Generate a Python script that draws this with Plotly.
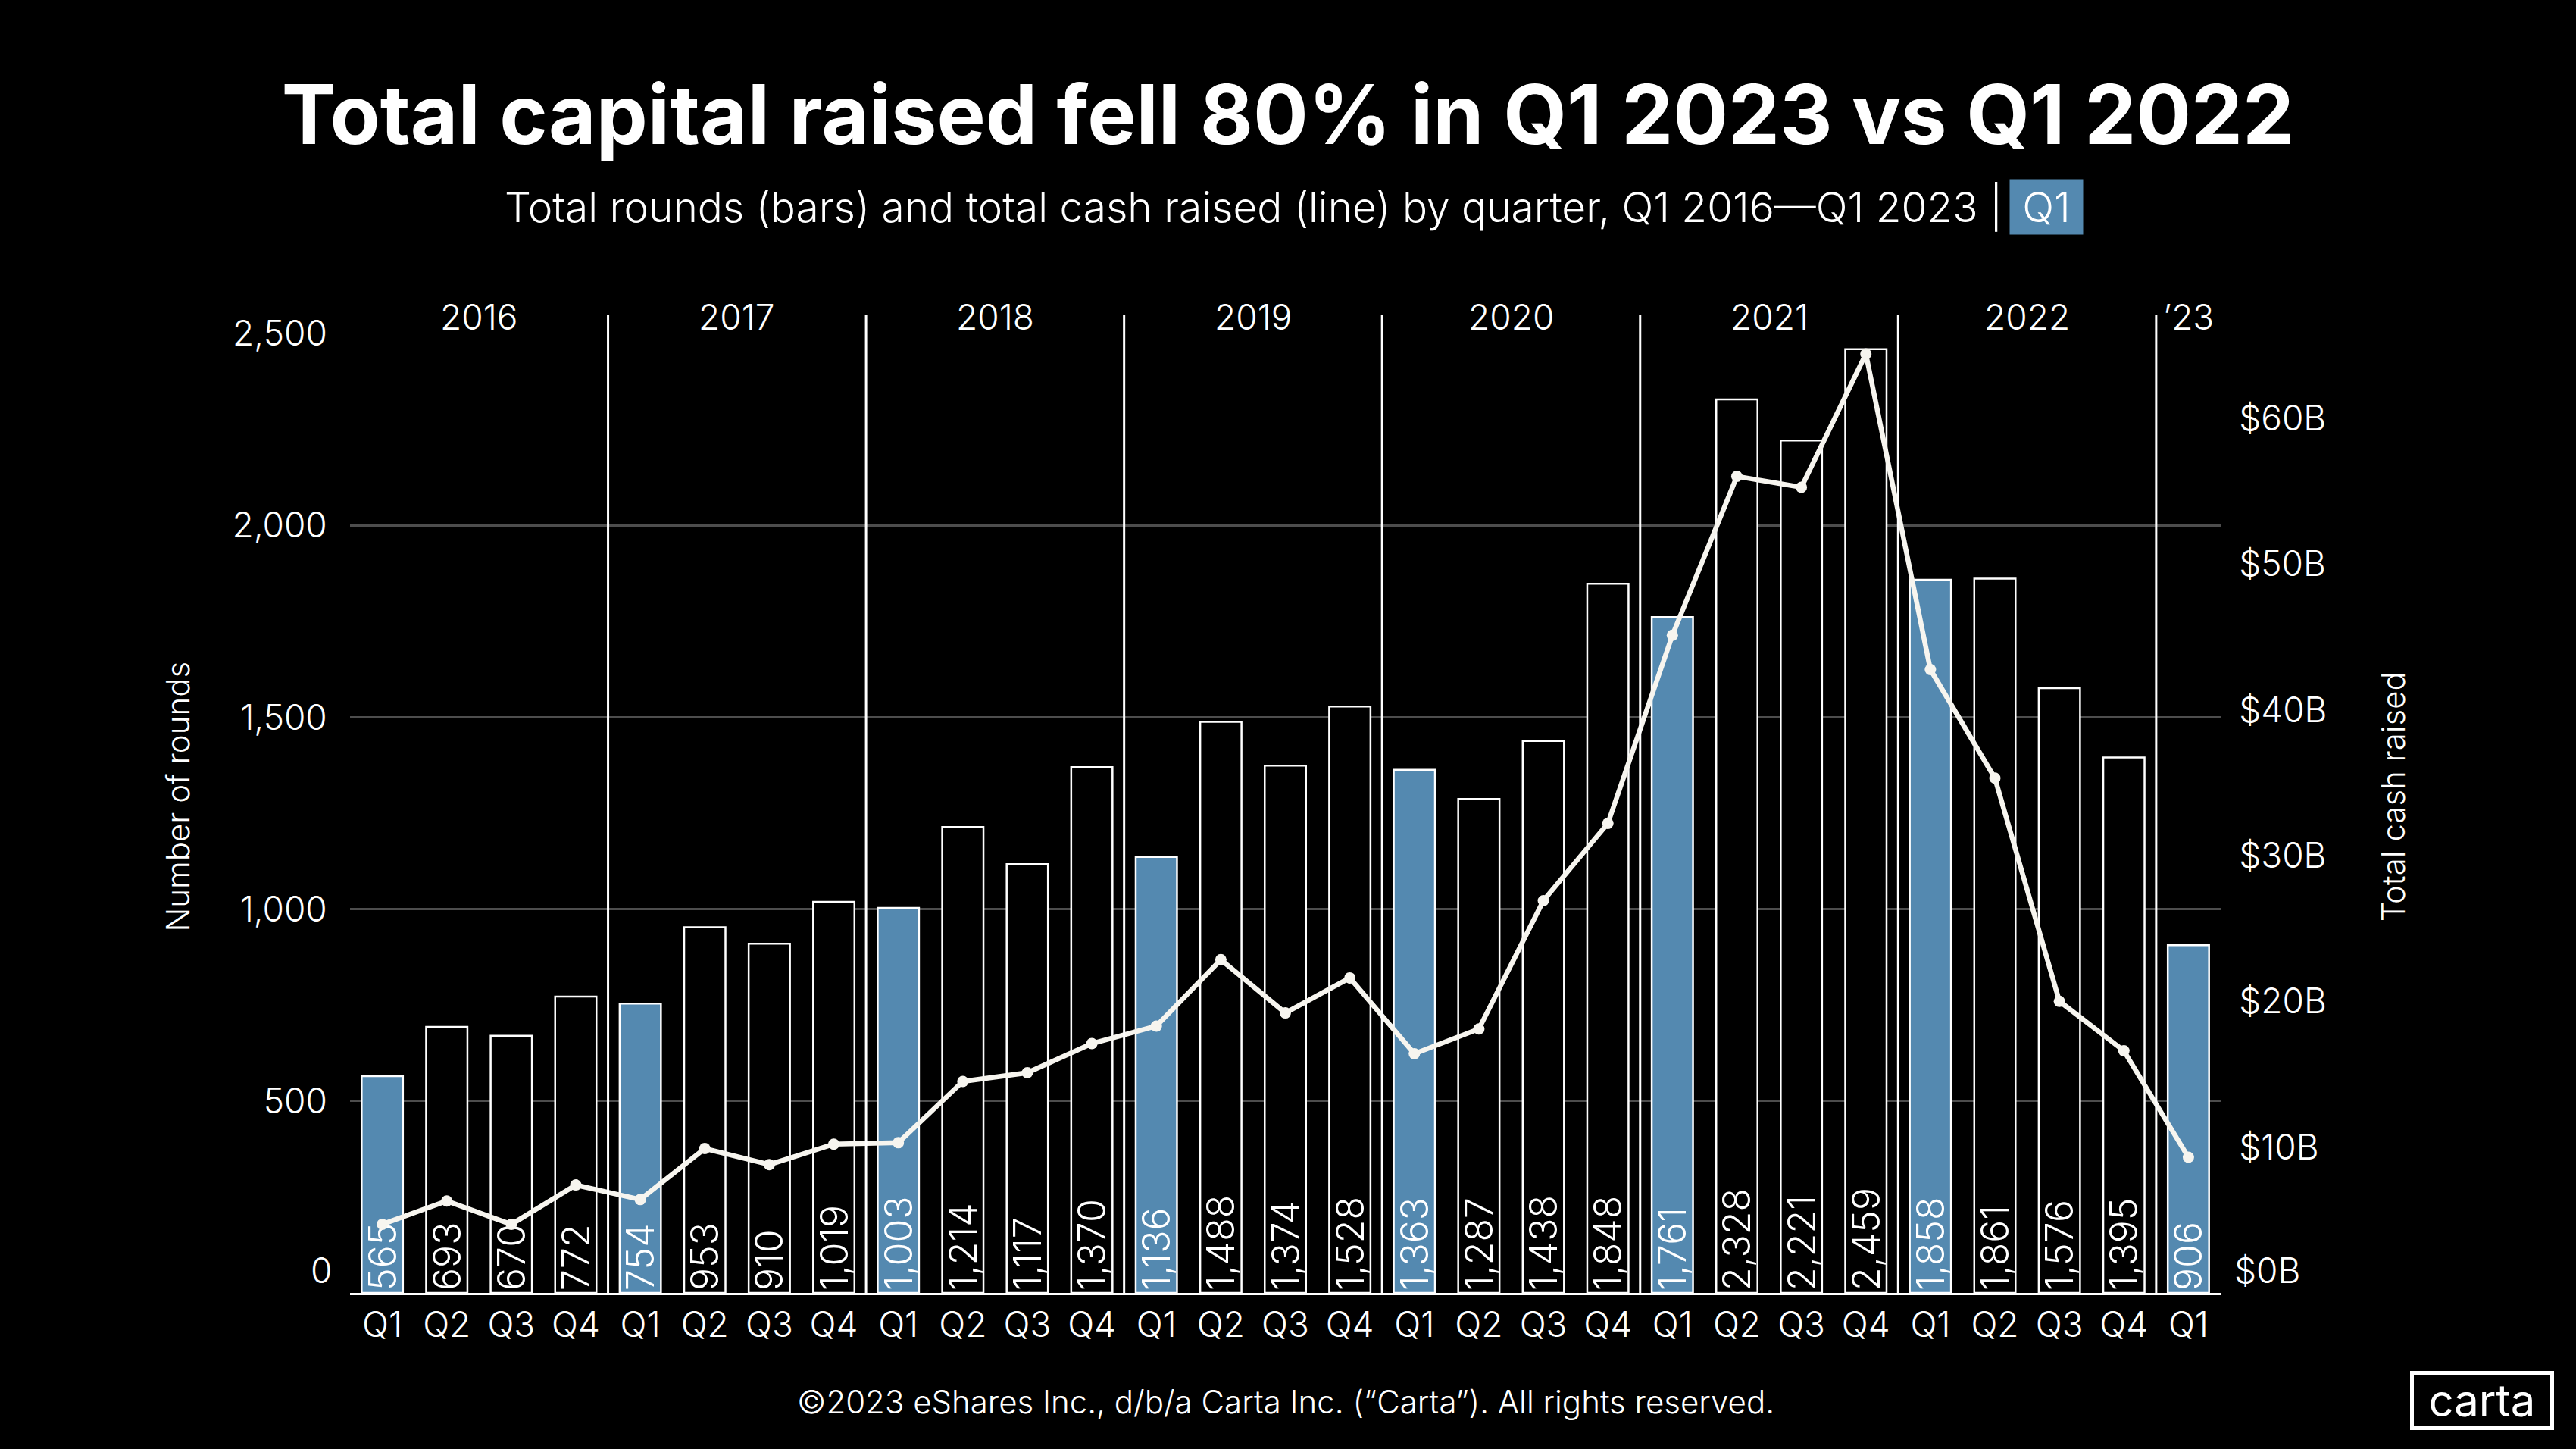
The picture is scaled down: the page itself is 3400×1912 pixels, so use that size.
import plotly.graph_objects as go

# quarters Q1 2016 .. Q1 2023
quarters = ["Q1", "Q2", "Q3", "Q4"] * 7 + ["Q1"]
years = ["2016", "2017", "2018", "2019", "2020", "2021", "2022", "\u201923"]

rounds = [565, 693, 670, 772,
          754, 953, 910, 1019,
          1003, 1214, 1117, 1370,
          1136, 1488, 1374, 1528,
          1363, 1287, 1438, 1848,
          1761, 2328, 2221, 2459,
          1858, 1861, 1576, 1395,
          906]

# total cash raised, $B
cash = [4.7, 6.3, 4.7, 7.4,
        6.4, 9.9, 8.8, 10.2,
        10.3, 14.5, 15.1, 17.1,
        18.3, 22.85, 19.2, 21.6,
        16.4, 18.1, 26.9, 32.2,
        45.1, 56.0, 55.25, 64.4,
        42.75, 35.3, 20.0, 16.6,
        9.3]

left_ticks = [500, 1000, 1500, 2000, 2500]
right_ticks = [10, 20, 30, 40, 50, 60]

BLUE = "#5489B0"
GRID = "#4d4d4d"
FONT = "Inter"


def light(size):
    return dict(family=FONT, size=size, color="white", weight=300)


x = list(range(len(rounds)))
fill = [BLUE if q == "Q1" else "black" for q in quarters]

fig = go.Figure()
fig.add_trace(go.Bar(
    x=x, y=rounds,
    marker=dict(color=fill, line=dict(color="white", width=2.5)),
    texttemplate="%{y:,}", textposition="inside", insidetextanchor="start",
    textangle=-90, constraintext="none",
    textfont=light(50),
    hoverinfo="skip", showlegend=False,
))
fig.add_trace(go.Scatter(
    x=x, y=cash, yaxis="y2", mode="lines+markers",
    line=dict(color="#f7f5ef", width=6.5),
    marker=dict(color="#f7f5ef", size=15),
    showlegend=False,
))

# year separators and year labels
for i in range(len(years)):
    if i > 0:
        fig.add_shape(type="line", xref="x", yref="paper",
                      x0=i * 4 - 0.5, x1=i * 4 - 0.5, y0=0, y1=1.019,
                      line=dict(color="white", width=3))
    mid = i * 4 + 1.5 if i < 7 else 28
    fig.add_annotation(x=mid, y=1.017, xref="x", yref="paper", text=years[i],
                       xanchor="center", yanchor="middle",
                       showarrow=False, font=light(46))

fig.update_layout(
    width=3400, height=1912,
    paper_bgcolor="black", plot_bgcolor="black",
    margin=dict(l=462, r=469, t=440, b=206),
    bargap=0.36,
    title=dict(text="<b>Total capital raised fell 80% in Q1 2023 vs Q1 2022</b>",
               x=0.5, xanchor="center", y=0.9205, yanchor="middle",
               font=dict(family=FONT, size=108, color="white")),
    xaxis=dict(range=[-0.5, 28.5], tickvals=x, ticktext=quarters,
               showgrid=False, zeroline=False, showline=True, linecolor="white", linewidth=3,
               ticks="", tickfont=light(46)),
    yaxis=dict(range=[0, 2500], tickvals=left_ticks, tickformat=",",
               showgrid=True, gridcolor=GRID, gridwidth=2.5, zeroline=False,
               ticks="outside", ticklen=20, tickcolor="rgba(0,0,0,0)",
               tickfont=light(46)),
    yaxis2=dict(range=[0, 65.8], overlaying="y", side="right",
                tickvals=right_ticks, ticktext=["$%dB" % v for v in right_ticks],
                showgrid=False, zeroline=False,
                ticks="outside", ticklen=14, tickcolor="rgba(0,0,0,0)",
                tickfont=light(46)),
)

# zero labels sit a little above the baseline
fig.add_annotation(x=-0.0089, y=0, xref="paper", yref="y", yshift=30, xanchor="right", yanchor="middle",
                   text="0", showarrow=False, font=light(46))
fig.add_annotation(x=1.0065, y=0, xref="paper", yref="y", yshift=30, xanchor="left", yanchor="middle",
                   text="$0B", showarrow=False, font=light(46))

# subtitle with highlighted Q1
fig.add_annotation(x=0.884, y=1.132, xref="paper", yref="paper", xanchor="right", yanchor="middle",
                   text="Total rounds (bars) and total cash raised (line) by quarter, Q1 2016\u2014Q1 2023 |",
                   showarrow=False, font=light(55))
fig.add_annotation(x=0.887, y=1.132, xref="paper", yref="paper", xanchor="left", yanchor="middle",
                   text="Q1", width=80, height=56, borderpad=8, bgcolor=BLUE,
                   showarrow=False, font=light(55))

# axis titles
fig.add_annotation(x=-0.0923, y=0.517, xref="paper", yref="paper", textangle=-90,
                   xanchor="center", yanchor="middle",
                   text="Number of rounds", showarrow=False, font=light(42))
fig.add_annotation(x=1.0923, y=0.517, xref="paper", yref="paper", textangle=-90,
                   xanchor="center", yanchor="middle",
                   text="Total cash raised", showarrow=False, font=light(42))

# footer and logo
fig.add_annotation(x=0.5, y=-0.113, xref="paper", yref="paper", xanchor="center", yanchor="middle",
                   text="\u00a92023 eShares Inc., d/b/a Carta Inc. (\u201cCarta\u201d). All rights reserved.",
                   showarrow=False, font=light(42))
fig.add_annotation(x=1.1397, y=-0.112, xref="paper", yref="paper", xanchor="center", yanchor="middle",
                   text="carta", width=170, height=58, borderpad=5, bordercolor="white", borderwidth=5,
                   showarrow=False, font=dict(family=FONT, size=58, color="white", weight=400))

fig.write_html("out.html", config={"displayModeBar": False},
               post_script="document.body.style.margin='0';document.body.style.background='black';")
